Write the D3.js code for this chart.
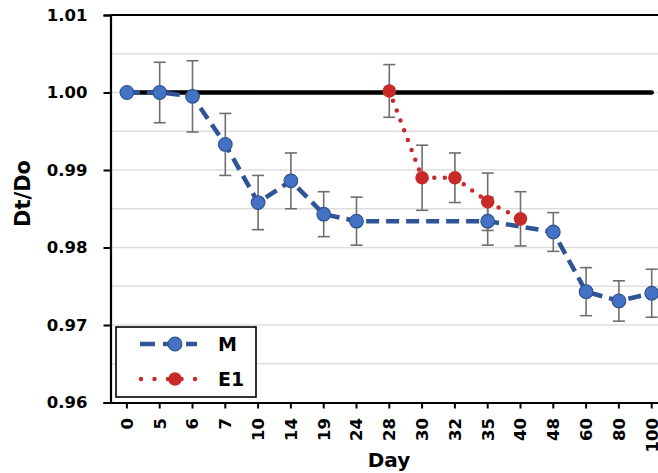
<!DOCTYPE html>
<html>
<head>
<meta charset="utf-8">
<script src="https://cdn.jsdelivr.net/npm/d3@7"></script>
<style>
  body { margin: 0; background: #fff; }
  svg { display: block; font-family: "DejaVu Sans", sans-serif; font-weight: bold; }
</style>
</head>
<body>
<script>
const days = ["0", "5", "6", "7", "10", "14", "19", "24", "28", "30", "32", "35", "40", "48", "60", "80", "100"];
// M series (null = no measurement, line is joined across the gap)
const mValues = [1.0, 1.0, 0.9995, 0.9933, 0.9858, 0.9886, 0.9843, 0.9834, null, null, null, 0.9834, null, 0.982, 0.9743, 0.9731, 0.9741];
const mErrors = [0, 0.0039, 0.0046, 0.004, 0.0035, 0.0036, 0.0029, 0.0031, null, null, null, 0.0031, null, 0.0025, 0.0031, 0.0026, 0.0031];
// E1 series
const e1Values = [null, null, null, null, null, null, null, null, 1.0002, 0.989, 0.989, 0.9859, 0.9837, null, null, null, null];
const e1Errors = [null, null, null, null, null, null, null, null, 0.0034, 0.0042, 0.0032, 0.0037, 0.0035, null, null, null, null];
const refValue = 1.0;
const yTicks = [0.96, 0.97, 0.98, 0.99, 1.0, 1.01];
const yGrid = [0.965, 0.97, 0.975, 0.98, 0.985, 0.99, 0.995, 1.0, 1.005];

const w = 658;
const h = 473;
const plotLeft = 110.5;
const plotTop = 15;
const plotBottom = 402.5;
const band = 32.8;
const font = "DejaVu Sans, sans-serif";

const svg = d3.select("body").append("svg").attr("width", w).attr("height", h);

const x = d3.scaleBand().domain(days).range([plotLeft, plotLeft + band * days.length]).padding(0);
const cx = (d) => x(d) + x.bandwidth() / 2;
const y = d3.scaleLinear().domain([0.96, 1.01]).range([plotBottom, plotTop]);

// gridlines
svg.append("g")
  .selectAll("line")
  .data(yGrid)
  .join("line")
  .attr("x1", plotLeft)
  .attr("x2", w)
  .attr("y1", (d) => y(d))
  .attr("y2", (d) => y(d))
  .attr("stroke", "#dedede")
  .attr("stroke-width", 1.3);

// top border line
svg.append("line")
  .attr("x1", plotLeft).attr("x2", w)
  .attr("y1", y(1.01)).attr("y2", y(1.01))
  .attr("stroke", "#000").attr("stroke-width", 2);

// axes
const yAxis = d3.axisLeft(y).tickValues(yTicks).tickFormat(d3.format(".2f")).tickSize(7).tickPadding(16);
const yG = svg.append("g").attr("transform", `translate(${plotLeft},0)`).call(yAxis);
yG.select(".domain").attr("stroke-width", 2.2);
yG.selectAll(".tick line").attr("stroke-width", 2);
yG.selectAll(".tick text").attr("font-size", 16.5).attr("font-weight", "bold").attr("font-family", font).attr("fill", "#000");

const xAxis = d3.axisBottom(x).tickSize(6).tickSizeOuter(0);
const xG = svg.append("g").attr("transform", `translate(0,${plotBottom})`).call(xAxis);
xG.select(".domain").attr("stroke-width", 2.2);
xG.selectAll(".tick line").attr("stroke-width", 2);
xG.selectAll(".tick text")
  .attr("font-size", 16.5)
  .attr("font-weight", "bold")
  .attr("font-family", font)
  .attr("fill", "#000")
  .attr("transform", "rotate(-90)")
  .attr("text-anchor", "end")
  .attr("x", -15.5)
  .attr("y", 0)
  .attr("dy", "0.36em");

// axis titles
svg.append("text")
  .attr("transform", "translate(30,193.5) rotate(-90)")
  .attr("text-anchor", "middle")
  .attr("font-size", 21)
  .text("Dt/Do");

svg.append("text")
  .attr("x", 389)
  .attr("y", 467)
  .attr("text-anchor", "middle")
  .attr("font-size", 20)
  .text("Day");

// reference line at 1.00
svg.append("line")
  .attr("x1", cx(days[0]))
  .attr("x2", cx(days[days.length - 1]))
  .attr("y1", y(refValue))
  .attr("y2", y(refValue))
  .attr("stroke", "#000")
  .attr("stroke-width", 4.5)
  .attr("stroke-linecap", "round");

const mData = days.map((d, i) => ({ day: d, v: mValues[i], e: mErrors[i] })).filter((p) => p.v !== null);
const e1Data = days.map((d, i) => ({ day: d, v: e1Values[i], e: e1Errors[i] })).filter((p) => p.v !== null);

const line = d3.line().x((p) => cx(p.day)).y((p) => y(p.v));

function errorBars(data) {
  const g = svg.append("g").attr("stroke", "#6e6e6e").attr("stroke-width", 1.6);
  data.filter((p) => p.e > 0).forEach((p) => {
    const xc = cx(p.day);
    g.append("line").attr("x1", xc).attr("x2", xc).attr("y1", y(p.v + p.e)).attr("y2", y(p.v - p.e));
    g.append("line").attr("x1", xc - 6).attr("x2", xc + 6).attr("y1", y(p.v + p.e)).attr("y2", y(p.v + p.e));
    g.append("line").attr("x1", xc - 6).attr("x2", xc + 6).attr("y1", y(p.v - p.e)).attr("y2", y(p.v - p.e));
  });
}

errorBars(mData);
errorBars(e1Data);

// M series
svg.append("path")
  .datum(mData)
  .attr("d", line)
  .attr("fill", "none")
  .attr("stroke", "#2F5597")
  .attr("stroke-width", 4.5)
  .attr("stroke-dasharray", "13,7");

svg.append("g")
  .selectAll("circle")
  .data(mData)
  .join("circle")
  .attr("cx", (p) => cx(p.day))
  .attr("cy", (p) => y(p.v))
  .attr("r", 6.8)
  .attr("fill", "#4472C4")
  .attr("stroke", "#2F528F")
  .attr("stroke-width", 1.2);

// E1 series
svg.append("path")
  .datum(e1Data)
  .attr("d", line)
  .attr("fill", "none")
  .attr("stroke", "#C82A2A")
  .attr("stroke-width", 4.5)
  .attr("stroke-linecap", "round")
  .attr("stroke-dasharray", "0,10.5");

svg.append("g")
  .selectAll("circle")
  .data(e1Data)
  .join("circle")
  .attr("cx", (p) => cx(p.day))
  .attr("cy", (p) => y(p.v))
  .attr("r", 6.8)
  .attr("fill", "#C82A2A");

// legend
const lg = svg.append("g");
lg.append("rect")
  .attr("x", 116).attr("y", 327)
  .attr("width", 140).attr("height", 70)
  .attr("fill", "#fff")
  .attr("stroke", "#000")
  .attr("stroke-width", 1.6);

lg.append("line")
  .attr("x1", 140).attr("x2", 197).attr("y1", 344).attr("y2", 344)
  .attr("stroke", "#2F5597").attr("stroke-width", 4.5)
  .attr("stroke-dasharray", "15,8").attr("stroke-dashoffset", 0);
lg.append("circle").attr("cx", 175).attr("cy", 344).attr("r", 6.8)
  .attr("fill", "#4472C4").attr("stroke", "#2F528F").attr("stroke-width", 1.2);
lg.append("text").attr("x", 218).attr("y", 351).attr("font-size", 19).text("M");

lg.append("line")
  .attr("x1", 141).attr("x2", 199).attr("y1", 379).attr("y2", 379)
  .attr("stroke", "#C82A2A").attr("stroke-width", 4.5)
  .attr("stroke-linecap", "round").attr("stroke-dasharray", "0,13.5");
lg.append("circle").attr("cx", 175).attr("cy", 379).attr("r", 6.8).attr("fill", "#C82A2A");
lg.append("text").attr("x", 218).attr("y", 386).attr("font-size", 19).text("E1");
</script>
</body>
</html>
